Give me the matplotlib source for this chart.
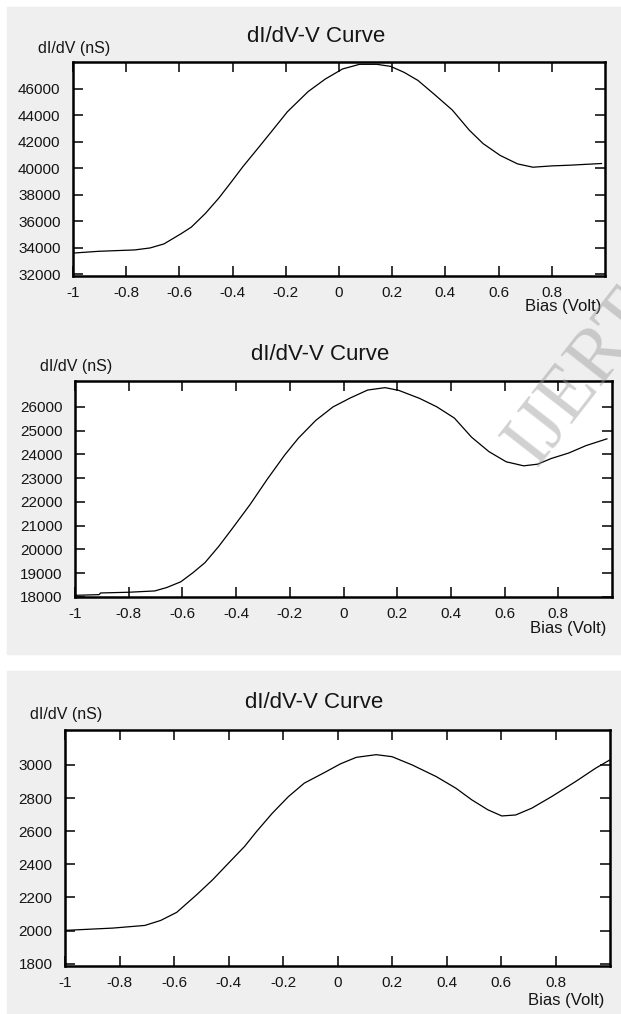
import matplotlib.pyplot as plt
from matplotlib.patches import Rectangle

plt.rcParams['font.family'] = ['Liberation Sans', 'DejaVu Sans']

# curve 1 (upper panel)
bias1 = [-0.994, -0.903, -0.768, -0.710, -0.658, -0.594, -0.555, -0.503, -0.452, -0.406,
         -0.361, -0.303, -0.258, -0.194, -0.116, -0.052, 0.013, 0.077, 0.142, 0.194,
         0.245, 0.297, 0.361, 0.426, 0.490, 0.542, 0.606, 0.671, 0.729, 0.800, 0.865, 0.987]
didv1 = [33600, 33727, 33830, 33980, 34285, 35050, 35556, 36573, 37742, 38936,
         40130, 41553, 42670, 44270, 45795, 46737, 47500, 47855, 47855, 47700,
         47245, 46635, 45540, 44400, 42875, 41860, 40970, 40333, 40080, 40180, 40230, 40360]
yticks1 = [32000, 34000, 36000, 38000, 40000, 42000, 44000, 46000]

# curve 2 (middle panel)
bias2 = [-1.0, -0.91, -0.905, -0.80, -0.703, -0.658, -0.606, -0.561, -0.516, -0.465,
         -0.413, -0.348, -0.284, -0.219, -0.168, -0.103, -0.039, 0.026, 0.090, 0.155,
         0.206, 0.284, 0.348, 0.413, 0.477, 0.542, 0.606, 0.671, 0.723, 0.774, 0.839,
         0.903, 0.981]
didv2 = [18070, 18100, 18170, 18200, 18255, 18400, 18640, 19020, 19445, 20125,
         20900, 21890, 22955, 23975, 24685, 25435, 26000, 26380, 26710, 26810,
         26695, 26355, 26000, 25530, 24725, 24115, 23690, 23520, 23590, 23830, 24060,
         24370, 24655]
yticks2 = [18000, 19000, 20000, 21000, 22000, 23000, 24000, 25000, 26000]

# curve 3 (lower panel)
bias3 = [-1.0, -0.824, -0.707, -0.649, -0.59, -0.517, -0.458, -0.40, -0.341, -0.297,
         -0.239, -0.18, -0.122, -0.048, 0.01, 0.069, 0.142, 0.20, 0.274, 0.362,
         0.435, 0.493, 0.552, 0.603, 0.654, 0.713, 0.786, 0.874, 0.947, 0.999]
didv3 = [2001, 2015, 2031, 2061, 2110, 2216, 2307, 2407, 2508, 2598,
         2709, 2809, 2890, 2954, 3006, 3046, 3062, 3050, 3000, 2930,
         2859, 2789, 2729, 2692, 2698, 2739, 2809, 2900, 2980, 3030]
yticks3 = [1800, 2000, 2200, 2400, 2600, 2800, 3000]

xticks = [-1, -0.8, -0.6, -0.4, -0.2, 0, 0.2, 0.4, 0.6, 0.8]
xlabels = ['-1', '-0.8', '-0.6', '-0.4', '-0.2', '0', '0.2', '0.4', '0.6', '0.8']

W, H = 621, 1014
fig = plt.figure(figsize=(W / 100, H / 100), dpi=100)
fig.patch.set_facecolor('white')

def px(x0, y0, x1, y1):
    # pixel box -> figure fraction
    return [x0 / W, 1 - y1 / H, (x1 - x0) / W, (y1 - y0) / H]

# gray backgrounds
fig.patches.append(Rectangle((7 / W, 1 - 654 / H), 1, 647 / H, transform=fig.transFigure,
                             color='#efefef', zorder=-5))
fig.patches.append(Rectangle((7 / W, 0), 1, (1014 - 671) / H, transform=fig.transFigure,
                             color='#efefef', zorder=-5))

txt = '#151515'
panels = [
    (bias1, didv1, yticks1, (31860, 48030), px(73, 62, 605, 276), (316, 37), (38, 48), (601, 307)),
    (bias2, didv2, yticks2, (18000, 27090), px(75, 381, 612, 597), (320, 355), (40, 366), (606, 628)),
    (bias3, didv3, yticks3, (1786, 3211), px(65, 730, 610, 966), (314, 703), (30, 715), (604, 1000)),
]

for bx, dy, yt, ylim, rect, tpos, lpos, bpos in panels:
    ax = fig.add_axes(rect)
    ax.set_zorder(1)
    ax.plot(bx, dy, color='black', lw=0.9)
    ax.set_xlim(-1, 1)
    ax.set_ylim(*ylim)
    ax.set_xticks(xticks)
    ax.set_xticklabels(xlabels)
    ax.set_yticks(yt)
    ax.tick_params(direction='in', top=True, right=True, length=7, width=1.1,
                   labelsize=11, labelcolor=txt, pad=7)
    ax.tick_params(axis='y', pad=9)
    for s in ax.spines.values():
        s.set_linewidth(1.8)
    fig.text(tpos[0] / W, 1 - tpos[1] / H, 'dI/dV-V Curve', fontsize=16, color=txt,
             ha='center', va='center')
    fig.text(lpos[0] / W, 1 - lpos[1] / H, 'dI/dV (nS)', fontsize=11.5, color=txt,
             ha='left', va='center')
    fig.text(bpos[0] / W, 1 - bpos[1] / H, 'Bias (Volt)', fontsize=12, color=txt,
             ha='right', va='center')

# watermark
fig.text(492 / W, 1 - 478 / H, 'IJERT', fontsize=56, family='Liberation Serif',
         color='#999999', alpha=0.45, rotation=52, ha='left', va='bottom', zorder=10)

fig.savefig('out.png', dpi=100)
